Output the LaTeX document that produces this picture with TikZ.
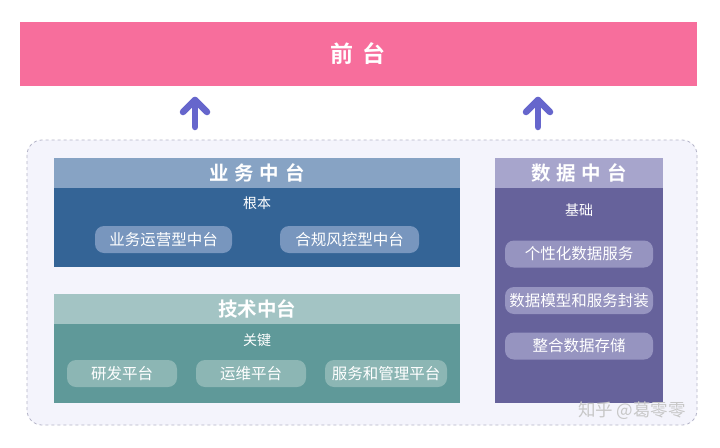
\documentclass[tikz,border=0pt]{standalone}
\usepackage{fontspec}
\setmainfont{Noto Sans CJK SC}
\newfontfamily\cjkb{Noto Sans CJK SC Bold}
\usetikzlibrary{arrows.meta}
\definecolor{front}{RGB}{247,110,156}
\definecolor{arrowc}{RGB}{102,102,204}
\definecolor{outerfill}{RGB}{244,244,252}
\definecolor{outerdash}{RGB}{180,180,200}
\definecolor{bizhead}{RGB}{135,163,196}
\definecolor{bizbody}{RGB}{52,100,150}
\definecolor{bizpill}{RGB}{120,150,190}
\definecolor{techhead}{RGB}{163,196,196}
\definecolor{techbody}{RGB}{95,153,153}
\definecolor{techpill}{RGB}{140,182,180}
\definecolor{datahead}{RGB}{167,165,204}
\definecolor{databody}{RGB}{102,98,155}
\definecolor{datapill}{RGB}{150,148,192}
\tikzset{
  px/.style={x=1pt,y=-1pt},
  headtxt/.style={text=white,font=\cjkb\fontsize{19.5}{20}\selectfont},
  subtxt/.style={text=white,font=\fontsize{14}{15}\selectfont},
  pill/.style={rounded corners=9pt,minimum height=27pt,text=white,font=\fontsize{15.5}{16}\selectfont,inner sep=0pt},
  uparrow/.style={draw=arrowc,line width=6.5pt,line cap=round,line join=round}
}
\begin{document}
\begin{tikzpicture}[px]
\useasboundingbox[fill=white] (0,0) rectangle (720,447);
% front
\fill[front] (20,22) rectangle (697,86);
\node[text=white,font=\cjkb\fontsize{23}{25}\selectfont] (front) at (358,54) {前\hspace{0.4em}台};
% outer dashed
\draw[outerdash,fill=outerfill,dashed,rounded corners=15pt,line width=0.8pt] (27,140) rectangle (697,425);
% arrows
\coordinate (a1s) at (195,127);
\coordinate (a1e) at (195,100);
\coordinate (a2s) at (538,127);
\coordinate (a2e) at (538,100);
\draw[uparrow] (a1s) -- (a1e);
\draw[uparrow] (183,112) -- (a1e) -- (207,112);
\draw[uparrow] (a2s) -- (a2e);
\draw[uparrow] (526,112) -- (a2e) -- (550,112);
% business
\fill[bizhead] (54,158) rectangle (460,188);
\fill[bizbody] (54,188) rectangle (460,267);
\node[headtxt] (biz) at (257,173) {业\hspace{0.3em}务\hspace{0.3em}中\hspace{0.3em}台};
\node[subtxt] (bizsub) at (257,203) {根本};
\node[pill,fill=bizpill,minimum width=137pt] (b1) at (163.5,239.5) {业务运营型中台};
\node[pill,fill=bizpill,minimum width=139pt] (b2) at (349.5,239.5) {合规风控型中台};
% tech
\fill[techhead] (54,294) rectangle (460,324);
\fill[techbody] (54,324) rectangle (460,403);
\node[headtxt] (tech) at (257,309) {技术中台};
\node[subtxt] (techsub) at (257,340) {关键};
\node[pill,fill=techpill,minimum width=110pt] (t1) at (122,373.5) {研发平台};
\node[pill,fill=techpill,minimum width=110pt] (t2) at (251,373.5) {运维平台};
\node[pill,fill=techpill,minimum width=122pt] (t3) at (386,373.5) {服务和管理平台};
% data
\fill[datahead] (495,158) rectangle (663,188);
\fill[databody] (495,188) rectangle (663,403);
\node[headtxt] (data) at (579,173) {数\hspace{0.3em}据\hspace{0.3em}中\hspace{0.3em}台};
\node[subtxt] (datasub) at (579,210) {基础};
\node[pill,fill=datapill,minimum width=148pt] (d1) at (579,254) {个性化数据服务};
\node[pill,fill=datapill,minimum width=148pt] (d2) at (579,300.5) {数据模型和服务封装};
\node[pill,fill=datapill,minimum width=148pt] (d3) at (579,346) {整合数据存储};
% watermark
\node[text=black!22,font=\fontsize{17.5}{18}\selectfont] (wm) at (632,411) {知乎 @葛零零};
\end{tikzpicture}
\end{document}
